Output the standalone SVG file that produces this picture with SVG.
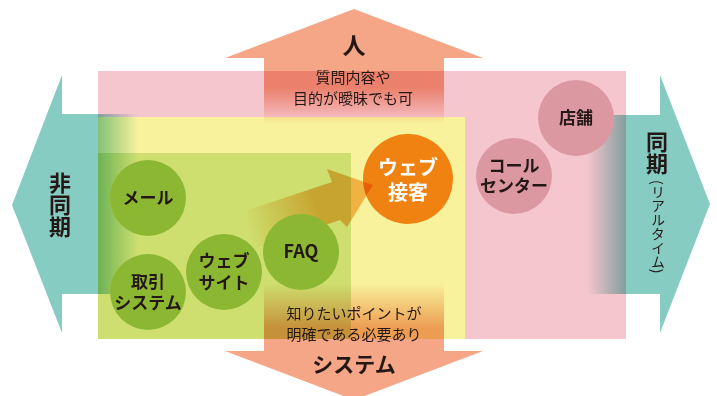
<svg xmlns="http://www.w3.org/2000/svg" width="717" height="396" viewBox="0 0 717 396">
<defs>
<style>
text{font-family:"Noto Sans CJK JP","Noto Sans",sans-serif;fill:#231815;text-anchor:middle}
.b{font-weight:bold}
.v{writing-mode:vertical-rl;text-anchor:start}
.mul{mix-blend-mode:multiply}
.gc{fill:#8CB733}
.pc{fill:#DC98A1}
.sub{font-size:15px}
.ct{font-size:17px;font-weight:bold}
</style>
<linearGradient id="gTop" gradientUnits="userSpaceOnUse" x1="0" y1="0" x2="0" y2="400">
<stop offset="0.22" stop-color="#F4A686" stop-opacity="1"/>
<stop offset="0.31" stop-color="#F4A686" stop-opacity="0"/>
</linearGradient>
<linearGradient id="gBot" gradientUnits="userSpaceOnUse" x1="0" y1="283" x2="0" y2="328">
<stop offset="0" stop-color="#F4A686" stop-opacity="0"/>
<stop offset="1" stop-color="#F4A686" stop-opacity="1"/>
</linearGradient>
<linearGradient id="gLeft" gradientUnits="userSpaceOnUse" x1="98" y1="0" x2="138" y2="0">
<stop offset="0" stop-color="#87CCC3" stop-opacity="1"/>
<stop offset="1" stop-color="#87CCC3" stop-opacity="0"/>
</linearGradient>
<linearGradient id="gRight" gradientUnits="userSpaceOnUse" x1="587" y1="0" x2="626" y2="0">
<stop offset="0" stop-color="#87CCC3" stop-opacity="0"/>
<stop offset="1" stop-color="#87CCC3" stop-opacity="1"/>
</linearGradient>
<linearGradient id="gDiag" gradientUnits="userSpaceOnUse" x1="248" y1="232" x2="318" y2="208">
<stop offset="0" stop-color="#F7BC6B" stop-opacity="0"/>
<stop offset="1" stop-color="#F7BC6B" stop-opacity="1"/>
</linearGradient>
</defs>

<g id="zones">
<rect x="98" y="71" width="528" height="268" fill="#F6C6CE"/>
<rect x="98" y="117" width="367" height="222" fill="#F8F29C"/>
<rect x="98" y="153" width="253" height="186" fill="#CEDF6F"/>
</g>

<g id="axes">
<path class="mul" d="M354 9 L483 58 L444 58 L444 130 L264 130 L264 58 L225 58 Z" fill="url(#gTop)"/>
<path class="mul" d="M264 283 L444 283 L444 351 L483 351 L354 400 L225 351 L264 351 Z" fill="url(#gBot)"/>
<path class="mul" d="M12 205 L62 75 L62 114 L140 114 L140 294 L62 294 L62 333 Z" fill="url(#gLeft)"/>
<path class="mul" d="M710 204 L660 333 L660 294 L587 294 L587 115 L660 115 L660 75 Z" fill="url(#gRight)"/>
</g>

<g id="node-webchat">
<circle cx="408" cy="179" r="45" fill="#EF8210"/>
</g>

<g id="connectors">
<path class="mul" d="M248 210 L332 182 L327 169 L373 185 L347 227 L340 220 L248 251 Z" fill="url(#gDiag)"/>
</g>

<g id="node-webchat-label">
<text class="b" font-size="20" style="fill:#fff"><tspan x="408" y="175">ウェブ</tspan><tspan x="408" y="200">接客</tspan></text>
</g>

<g id="node-mail">
<circle class="gc" cx="148" cy="198" r="38"/>
<text class="ct" x="148" y="204">メール</text>
</g>
<g id="node-trade">
<circle class="gc" cx="148" cy="292" r="38"/>
<text class="ct"><tspan x="148" y="288">取引</tspan><tspan x="148" y="309">システム</tspan></text>
</g>
<g id="node-website">
<circle class="gc" cx="224" cy="272" r="38"/>
<text class="ct"><tspan x="224" y="267">ウェブ</tspan><tspan x="224" y="289">サイト</tspan></text>
</g>
<g id="node-faq">
<circle class="gc" cx="301" cy="252" r="38"/>
<text class="b" x="301" y="258" font-size="18">FAQ</text>
</g>
<g id="node-store">
<circle class="pc" cx="576" cy="118" r="38"/>
<text class="ct" x="576" y="124">店舗</text>
</g>
<g id="node-callcenter">
<circle class="pc" cx="514" cy="176" r="38"/>
<text class="ct"><tspan x="514" y="172">コール</tspan><tspan x="514" y="192">センター</tspan></text>
</g>

<g id="labels">
<text class="b" x="354" y="54" font-size="23">人</text>
<text class="sub"><tspan x="353" y="83">質問内容や</tspan><tspan x="353" y="104">目的が曖昧でも可</tspan></text>
<text class="sub"><tspan x="354" y="319">知りたいポイントが</tspan><tspan x="354" y="340">明確である必要あり</tspan></text>
<text class="b" x="354" y="372" font-size="21">システム</text>
<text class="b v" x="60" y="172" font-size="22">非同期</text>
<text class="b v" x="657" y="131" font-size="22">同期</text>
<text class="v" x="658" y="180" font-size="14">(リアルタイム)</text>
</g>
</svg>
